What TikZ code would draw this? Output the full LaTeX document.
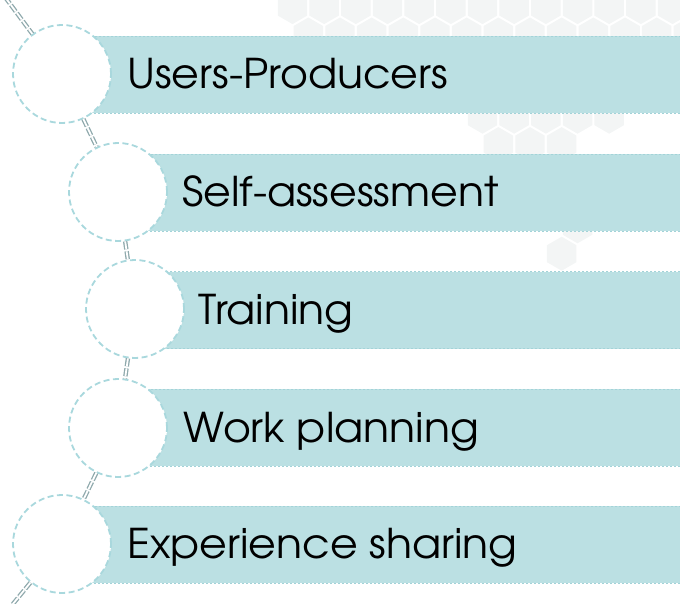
\documentclass[tikz,border=0pt]{standalone}
\usepackage{fontspec}
\setmainfont[FakeStretch=1.04]{TeX Gyre Adventor}
\usepackage{tikz}
\usetikzlibrary{shapes, positioning, calc}
\definecolor{barfill}{HTML}{BBE0E3}
\definecolor{barline}{HTML}{A3D3D8}
\definecolor{ringline}{HTML}{A9D8DD}
\definecolor{linkgray}{HTML}{8FA9AC}
\definecolor{hexgray}{HTML}{F3F5F5}

\begin{document}
\begin{tikzpicture}
            [x=1pt, y=-1pt, semithick,
            stepbar/.style={rectangle, anchor=west, fill=barfill, draw=barline, line width=0.6pt,
                            dash pattern=on 2pt off 2pt, minimum height=77pt, inner sep=0pt},
            ring/.style={circle, fill=white, draw=ringline, line width=1.8pt,
                         dash pattern=on 6pt off 3.5pt, minimum size=98pt, inner sep=0pt},
            link/.style={draw=linkgray, double=white, double distance=1.8pt, line width=1.3pt,
                         dash pattern=on 8pt off 2pt},
            steptext/.style={anchor=base west, inner sep=0pt, font=\fontsize{41}{48}\selectfont}]

            \useasboundingbox (0,0) rectangle (680,604);

            % honeycomb in the background
            \foreach \i/\j in {0/0,1/0,2/0,3/0,4/0,5/0,6/0,7/0,8/0,9/0,10/0,11/0,12/0,
                               0/1,1/1,2/1,3/1,4/1,5/1,6/1,7/1,8/1,9/1,10/1,11/1,12/1,
                               6/4,7/4,8/4,9/4,10/4,6/5,7/5,8/5,9/8,8/9}
              \fill[hexgray] ({292.5+31.67*\i+15.83*mod(\j,2)},{7.1+27.4*\j})
                  +(90:17) -- +(150:17) -- +(210:17) -- +(270:17) -- +(330:17) -- +(30:17) -- cycle;

            \node[stepbar, minimum width=619pt] (b1) at (62,74.5) {};
            \node[stepbar, minimum width=563pt] (b2) at (118,192.5) {};
            \node[stepbar, minimum width=546pt] (b3) at (135,310) {};
            \node[stepbar, minimum width=563pt] (b4) at (118,427.5) {};
            \node[stepbar, minimum width=619pt] (b5) at (62,544.5) {};

            \node[ring] (c1) at (62,74) {};
            \node[ring] (c2) at (118,192) {};
            \node[ring] (c3) at (135,309) {};
            \node[ring] (c4) at (118,428) {};
            \node[ring] (c5) at (62,544) {};

            \node[steptext] (t1) at (127,88.5) {Users-Producers};
            \node[steptext] (t2) at (182,206.5) {Self-assessment};
            \node[steptext] (t3) at (198,324) {Training};
            \node[steptext] (t4) at (183,442) {Work planning};
            \node[steptext] (t5) at (127,558.5) {Experience sharing};

            \coordinate (top) at (5,-3);
            \coordinate (bot) at (8,610);

            \draw[link] (top) -- (c1);
            \draw[link] (c1) -- (c2);
            \draw[link] (c2) -- (c3);
            \draw[link] (c3) -- (c4);
            \draw[link] (c4) -- (c5);
            \draw[link] (c5) -- (bot);

          \end{tikzpicture}
\end{document}
